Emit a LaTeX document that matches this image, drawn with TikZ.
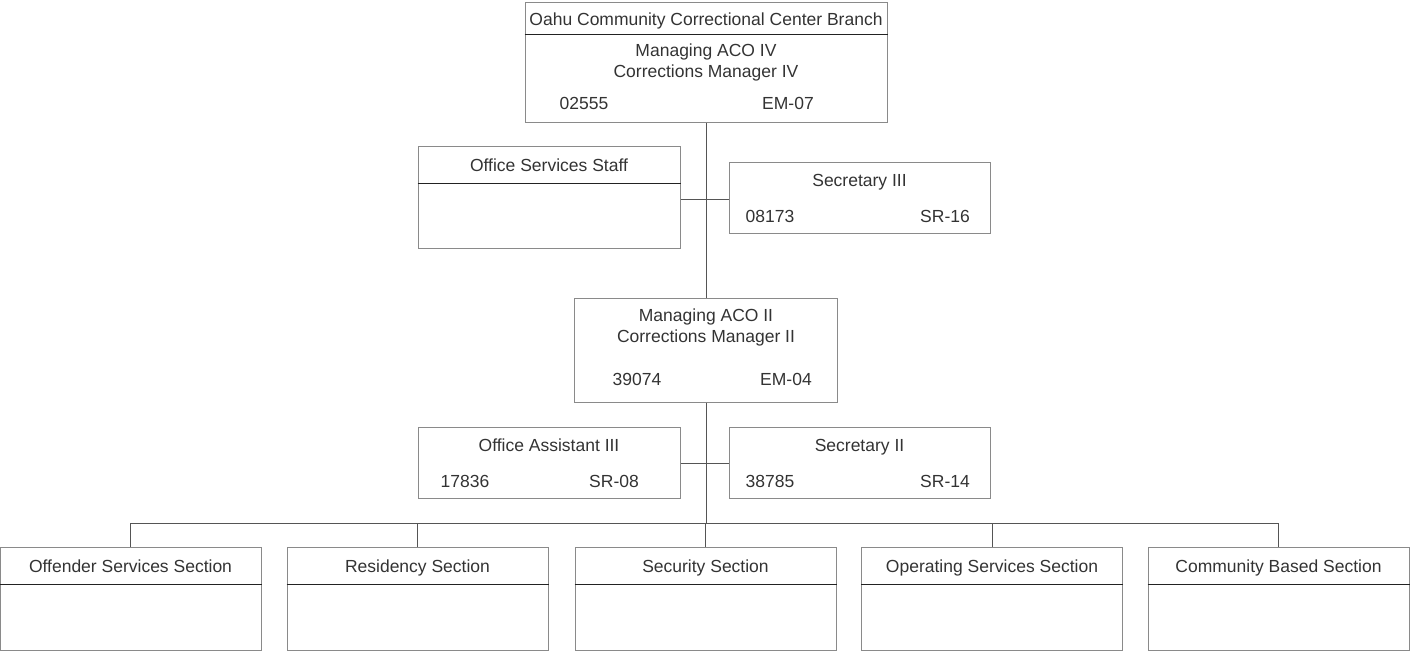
\documentclass[tikz,border=0pt]{standalone}
\usepackage{fontspec}
\setmainfont{Liberation Sans}
\definecolor{boxgray}{HTML}{8A8A8A}
\definecolor{divgray}{HTML}{222222}
\definecolor{linegray}{HTML}{555555}
\definecolor{txt}{HTML}{333333}
\begin{document}
\begin{tikzpicture}[x=1pt,y=-1pt,
  box/.style={draw=boxgray, line width=1pt, inner sep=0pt, minimum height=#1},
  w/.style={minimum width=#1},
  lbl/.style={inner sep=0pt, text=txt, font=\fontsize{17.5}{20}\selectfont, anchor=base},
  divider/.style={draw=divgray, line width=1pt},
  conn/.style={draw=linegray, line width=1pt}]
\useasboundingbox (0,0) rectangle (1410,652);
% top box
\node[box=120, w=362] (top) at (706,63) {};
\node[lbl] (topT) at (706,26) {Oahu Community Correctional Center Branch};
\draw[divider] (top.west |- 0,35) -- (top.east |- 0,35);
\node[lbl] (topA) at (706,57) {Managing ACO IV};
\node[lbl] (topB) at (706,78) {Corrections Manager IV};
\node[lbl] (topC) at (584,110) {02555};
\node[lbl] (topD) at (788,110) {EM-07};
% office services staff
\node[box=102, w=262] (oss) at (549,198) {};
\node[lbl] (ossT) at (549,172) {Office Services Staff};
\draw[divider] (oss.west |- 0,184) -- (oss.east |- 0,184);
% secretary III
\node[box=71, w=261] (sec3) at (859.5,198.5) {};
\node[lbl] (sec3T) at (859.5,187) {Secretary III};
\node[lbl] (sec3A) at (770,223) {08173};
\node[lbl] (sec3B) at (945,223) {SR-16};
% manager II
\node[box=104, w=263] (mgr) at (706,350) {};
\node[lbl] (mgrA) at (706,321) {Managing ACO II};
\node[lbl] (mgrB) at (706,342) {Corrections Manager II};
\node[lbl] (mgrC) at (637,385) {39074};
\node[lbl] (mgrD) at (786,385) {EM-04};
% office assistant III
\node[box=71, w=262] (oa) at (549,462.5) {};
\node[lbl] (oaT) at (549,451) {Office Assistant III};
\node[lbl] (oaA) at (465,487) {17836};
\node[lbl] (oaB) at (614,487) {SR-08};
% secretary II
\node[box=71, w=261] (sec2) at (859.5,462.5) {};
\node[lbl] (sec2T) at (859.5,451) {Secretary II};
\node[lbl] (sec2A) at (770,487) {38785};
\node[lbl] (sec2B) at (945,487) {SR-14};
% bottom sections
\foreach \n/\cx/\t in {b1/130.5/Offender Services Section,
                       b2/417.5/Residency Section,
                       b3/705.5/Security Section,
                       b4/992/Operating Services Section,
                       b5/1278.5/Community Based Section}{
  \node[box=103, w=261] (\n) at (\cx,598.5) {};
  \node[lbl] (\n T) at (\cx,572) {\t};
  \draw[divider] (\n.west |- 0,584) -- (\n.east |- 0,584);
}
% connectors
\coordinate (j1) at (706,200);
\coordinate (j2) at (706,463);
\coordinate (bus) at (706,523);
\draw[conn] (top.south) -- (mgr.north);
\draw[conn] (oss.east |- j1) -- (sec3.west |- j1);
\draw[conn] (mgr.south) -- (bus);
\draw[conn] (oa.east |- j2) -- (sec2.west |- j2);
\draw[conn] (b1.north) |- (b5.north |- bus) -- (b5.north);
\draw[conn] (b2.north) -- (b2.north |- bus);
\draw[conn] (b3.north) -- (b3.north |- bus);
\draw[conn] (b4.north) -- (b4.north |- bus);
\end{tikzpicture}
\end{document}
